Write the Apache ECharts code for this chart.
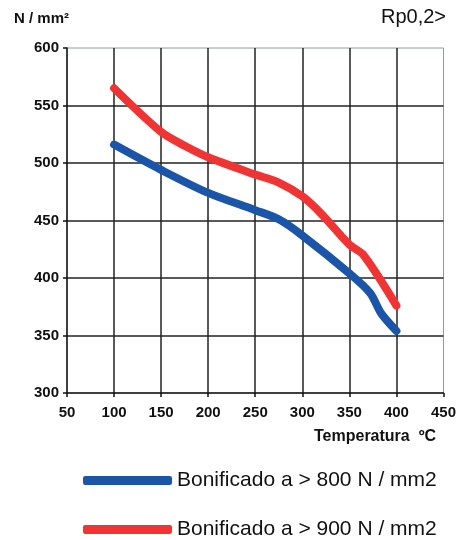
<!DOCTYPE html>
<html><head><meta charset="utf-8">
<script src="https://cdn.jsdelivr.net/npm/echarts@6/dist/echarts.min.js"></script>
<style>html,body{margin:0;padding:0;background:#fff}#c{width:459px;height:540px}</style>
</head><body><div id="c"></div>
<script>
const seriesNames = ['Bonificado a > 800 N / mm2', 'Bonificado a > 900 N / mm2'];
const temps800 = [100, 150, 200, 250, 275, 300, 350, 372, 384, 400];
const vals800  = [516, 494, 474, 459, 451, 437, 404, 387, 369, 354];
const temps900 = [100, 150, 175, 200, 250, 275, 300, 320, 350, 365, 400];
const vals900  = [565, 527, 515, 505, 490, 483, 471, 456, 429, 420, 376];
const xTicks = [50, 100, 150, 200, 250, 300, 350, 400, 450];
const yTicks = [300, 350, 400, 450, 500, 550, 600];
const colors = ['#1a55aa', '#f03434'];

const chart = echarts.init(document.getElementById('c'), null, {renderer: 'canvas'});
const font = 'Liberation Sans, Arial, sans-serif';
const legendBase = {
  orient: 'horizontal', left: 83, padding: 0, itemWidth: 89, itemHeight: 9,
  icon: 'roundRect', itemStyle: {borderWidth: 0},
  textStyle: {fontFamily: font, fontSize: 21, color: '#111'}
};
chart.setOption({
  animation: false,
  backgroundColor: '#fff',
  grid: {left: 67, top: 48, width: 381, height: 345, show: true, borderColor: '#8c9c9c', borderWidth: 1, backgroundColor: 'transparent'},
  xAxis: {
    type: 'value', min: xTicks[0], max: xTicks[xTicks.length - 1], interval: 50,
    axisLine: {show: true, lineStyle: {color: '#111', width: 1.5}},
    axisTick: {show: true, inside: false, length: 4, lineStyle: {color: '#111', width: 1.5}},
    axisLabel: {margin: 12, color: '#111', fontFamily: font, fontWeight: 'bold', fontSize: 15},
    splitLine: {show: true, showMinLine: false, showMaxLine: false, lineStyle: {color: '#222', width: 1.5}}
  },
  yAxis: {
    type: 'value', min: yTicks[0], max: yTicks[yTicks.length - 1], interval: 50,
    axisLine: {show: true, lineStyle: {color: '#111', width: 1.5}},
    axisTick: {show: true, inside: false, length: 4, lineStyle: {color: '#111', width: 1.5}},
    axisLabel: {margin: 8, color: '#111', fontFamily: font, fontWeight: 'bold', fontSize: 15},
    splitLine: {show: true, showMinLine: false, showMaxLine: false, lineStyle: {color: '#222', width: 1.5}}
  },
  legend: [
    Object.assign({}, legendBase, {top: 470, data: [seriesNames[0]]}),
    Object.assign({}, legendBase, {top: 519, data: [seriesNames[1]]})
  ],
  graphic: [
    {type: 'text', left: 14, top: 11, style: {text: 'N / mm²', font: 'bold 15px ' + font, fill: '#111'}},
    {type: 'text', right: 13, top: 7, style: {text: 'Rp0,2>', font: '20px ' + font, fill: '#111'}},
    {type: 'text', left: 314, top: 429, style: {text: 'Temperatura  ºC', font: 'bold 16px ' + font, fill: '#111'}}
  ],
  series: [
    {name: seriesNames[0], type: 'line', smooth: 0.3, showSymbol: false, color: colors[0],
     lineStyle: {width: 8, color: colors[0], cap: 'round'},
     data: temps800.map((t, i) => [t, vals800[i]])},
    {name: seriesNames[1], type: 'line', smooth: 0.3, showSymbol: false, color: colors[1],
     lineStyle: {width: 8, color: colors[1], cap: 'round'},
     data: temps900.map((t, i) => [t, vals900[i]])}
  ]
});
</script></body></html>
